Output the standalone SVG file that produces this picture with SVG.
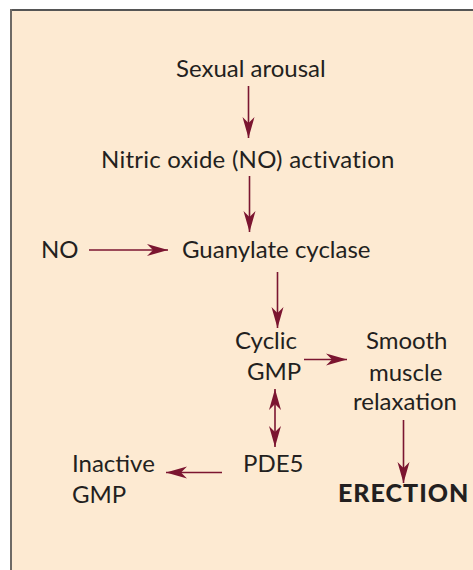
<svg xmlns="http://www.w3.org/2000/svg" width="473" height="570" viewBox="0 0 473 570">
<style>
.t{font-family:Lato,"Open Sans","DejaVu Sans",sans-serif;font-size:24px;fill:#231f20}
.b{font-weight:900;font-size:25px;letter-spacing:1px}
.c{stroke:#7b1530;stroke-width:1.6;fill:none}
</style>
<defs>
<marker id="ah" markerUnits="userSpaceOnUse" markerWidth="24" markerHeight="14" viewBox="-22 -7 24 14" refX="0" refY="0" orient="auto-start-reverse">
<path d="M0,0 L-21,-6 L-15,0 L-21,6 Z" fill="#7b1530"/>
</marker>
</defs>
<rect x="0" y="0" width="473" height="570" fill="#ffffff"/>
<rect x="11" y="10" width="462" height="560" fill="#fdead2"/>
<line x1="10" y1="10" x2="473" y2="10" stroke="#555" stroke-width="2"/>
<line x1="11" y1="9" x2="11" y2="570" stroke="#6e6a66" stroke-width="2"/>
<g id="connectors">
<line class="c" x1="248.5" y1="86" x2="248.5" y2="138" marker-end="url(#ah)"/>
<line class="c" x1="249.5" y1="176" x2="249.5" y2="232" marker-end="url(#ah)"/>
<line class="c" x1="89" y1="250" x2="168" y2="250" marker-end="url(#ah)"/>
<line class="c" x1="277.5" y1="272" x2="277.5" y2="328" marker-end="url(#ah)"/>
<line class="c" x1="304" y1="359.5" x2="347" y2="359.5" marker-end="url(#ah)"/>
<line class="c" x1="275" y1="389" x2="275" y2="447" marker-start="url(#ah)" marker-end="url(#ah)"/>
<line class="c" x1="403.5" y1="420" x2="403.5" y2="483" marker-end="url(#ah)"/>
<line class="c" x1="222" y1="472.5" x2="166" y2="472.5" marker-end="url(#ah)"/>
</g>
<g id="sexual-arousal"><text class="t" x="176" y="77">Sexual arousal</text></g>
<g id="no-activation"><text class="t" x="101" y="168" letter-spacing="0.25">Nitric oxide (NO) activation</text></g>
<g id="no"><text class="t" x="41" y="258">NO</text></g>
<g id="guanylate-cyclase"><text class="t" x="182" y="258">Guanylate cyclase</text></g>
<g id="cyclic-gmp"><text class="t" x="235" y="349">Cyclic</text><text class="t" x="247" y="380">GMP</text></g>
<g id="smooth-muscle"><text class="t" x="366" y="349">Smooth</text><text class="t" x="369" y="381">muscle</text><text class="t" x="353" y="410">relaxation</text></g>
<g id="erection"><text class="t b" x="338" y="502">ERECTION</text></g>
<g id="pde5"><text class="t" x="243" y="472">PDE5</text></g>
<g id="inactive-gmp"><text class="t" x="72" y="472">Inactive</text><text class="t" x="72" y="503">GMP</text></g>
</svg>
